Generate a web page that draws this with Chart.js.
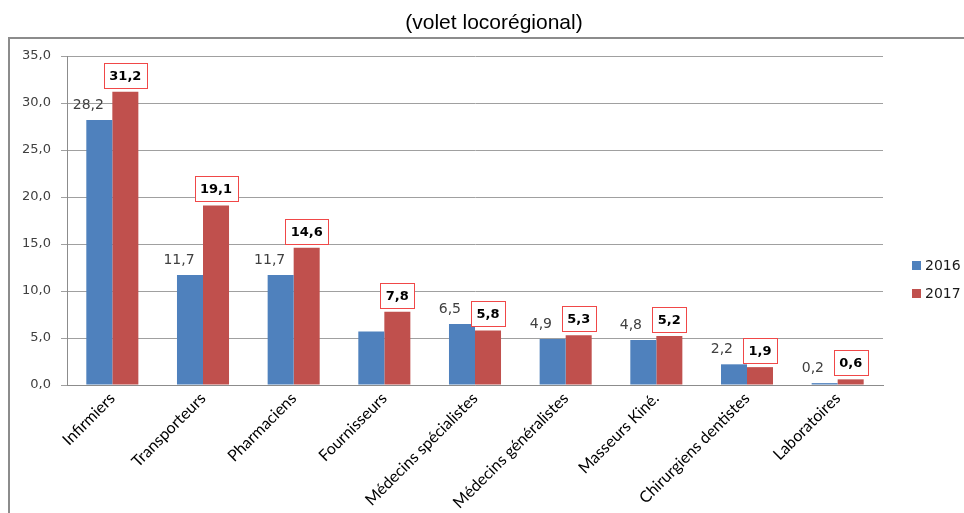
<!DOCTYPE html>
<html lang="fr">
<head>
<meta charset="utf-8">
<title>Volet locorégional</title>
<script src="https://cdn.jsdelivr.net/npm/chart.js"></script>
<style>
  html, body { margin: 0; padding: 0; background: #fff; overflow: hidden; }
  #cadre { position: relative; width: 964px; height: 513px; }
  #graphique { position: absolute; left: 0; top: 0; }
  #titre {
    position: absolute; left: 0; top: 10px; width: 988px;
    text-align: center; line-height: 24px;
    font-family: "Liberation Sans", Arial, sans-serif; font-size: 21px; color: #000;
  }
</style>
</head>
<body>
<div id="cadre">
  <canvas id="graphique" width="964" height="513"></canvas>
  <div id="titre">(volet locorégional)</div>
</div>
<script>
var categories = ['Infirmiers', 'Transporteurs', 'Pharmaciens', 'Fournisseurs', 'Médecins spécialistes',
    'Médecins généralistes', 'Masseurs Kiné.', 'Chirurgiens dentistes', 'Laboratoires'];
var annees = ['2016', '2017'];
var valeurs2016 = [28.2, 11.7, 11.7, 5.7, 6.5, 4.9, 4.8, 2.2, 0.2];
var valeurs2017 = [31.2, 19.1, 14.6, 7.8, 5.8, 5.3, 5.2, 1.9, 0.6];
var graduationsY = [0, 5, 10, 15, 20, 25, 30, 35];
// pas d'étiquette sur la barre 2016 des fournisseurs
var sansEtiquette2016 = [3];

function formatFr(v){
    return v.toFixed(1).replace('.', ',');
}

// cadre gris autour du graphique
var cadre = {
    id: 'cadre',
    beforeDraw: function(chart){
        var ctx = chart.ctx;
        ctx.save();
        ctx.strokeStyle = '#8c8c8c';
        ctx.lineWidth = 2;
        ctx.strokeRect(9, 38, 1100, 600);
        ctx.restore();
    }
};

// étiquettes de valeur : 2016 en texte simple, 2017 en gras dans un cadre rouge
var etiquettes = {
    id: 'etiquettes',
    afterDatasetsDraw: function(chart){
        var ctx = chart.ctx;
        ctx.save();
        ctx.textAlign = 'center';
        ctx.textBaseline = 'middle';

        var meta2016 = chart.getDatasetMeta(0);
        var meta2017 = chart.getDatasetMeta(1);
        var boites = [];

        // d'abord les cadres 2017, pour savoir où placer les textes 2016
        ctx.font = 'bold 13px "DejaVu Sans"';
        for (var j = 0; j < meta2017.data.length; j++) {
            var barre2 = meta2017.data[j];
            var texte = formatFr(valeurs2017[j]);
            var largeur = Math.round(ctx.measureText(texte).width) + 11;
            var hauteur = 25;
            var gauche = Math.round(barre2.x - largeur / 2);
            var haut = Math.round(barre2.y - 4 - hauteur);
            boites.push({ gauche: gauche, haut: haut, bas: haut + hauteur });
            ctx.fillStyle = '#fff';
            ctx.fillRect(gauche, haut, largeur, hauteur);
            ctx.strokeStyle = '#f04848';
            ctx.lineWidth = 1;
            ctx.strokeRect(gauche + 0.5, haut + 0.5, largeur, hauteur);
            ctx.fillStyle = '#000';
            ctx.fillText(texte, barre2.x, haut + hauteur / 2 + 1);
        }

        ctx.font = '14px "DejaVu Sans"';
        ctx.fillStyle = '#404040';
        for (var i = 0; i < meta2016.data.length; i++) {
            if (sansEtiquette2016.indexOf(i) !== -1) {
                continue;
            }
            var barre = meta2016.data[i];
            var t = formatFr(valeurs2016[i]);
            var w = ctx.measureText(t).width;
            var x = barre.x - 11;
            var y = barre.y - 15;
            var b = boites[i];
            // si le texte touche le cadre voisin, on le décale vers la gauche
            if (y + 6 > b.haut && y - 6 < b.bas && x + w / 2 > b.gauche - 10) {
                x = b.gauche - 10 - w / 2;
            }
            ctx.fillText(t, x, y);
        }
        ctx.restore();
    }
};

// légende à droite
var legende = {
    id: 'legende',
    afterDraw: function(chart){
        var ctx = chart.ctx;
        ctx.save();
        ctx.font = '14px "DejaVu Sans"';
        ctx.textBaseline = 'middle';
        ctx.textAlign = 'left';
        var datasets = chart.data.datasets;
        for (var i = 0; i < datasets.length; i++) {
            var y = 265 + i * 28;
            ctx.fillStyle = datasets[i].backgroundColor;
            ctx.fillRect(912, y - 4, 9, 9);
            ctx.fillStyle = '#1a1a1a';
            ctx.fillText(datasets[i].label, 925, y + 1);
        }
        ctx.restore();
    }
};

function graficoBarre(){
    var ctx = document.getElementById('graphique');
    var chart = new Chart(ctx, {
        type: 'bar',
        data: {
            labels: categories,
            datasets: [{
                label: annees[0],
                data: valeurs2016,
                backgroundColor: '#4f81bd'
            }, {
                label: annees[1],
                data: valeurs2017,
                backgroundColor: '#c0504d'
            }]
        },
        options: {
            responsive: false,
            animation: false,
            devicePixelRatio: 1,
            categoryPercentage: 0.574,
            barPercentage: 1.0,
            layout: { padding: { top: 56, right: 81, bottom: 0, left: 0 } },
            plugins: {
                legend: { display: false },
                title: { display: false },
                tooltip: { enabled: false }
            },
            scales: {
                x: {
                    grid: { display: false, drawTicks: false },
                    border: { color: '#8c8c8c' },
                    ticks: {
                        autoSkip: false,
                        maxRotation: 45,
                        minRotation: 45,
                        padding: 4,
                        color: '#000',
                        font: { family: 'Lato', size: 16 }
                    },
                    afterFit: function(axe){ axe.height = 128; }
                },
                y: {
                    min: graduationsY[0],
                    max: graduationsY[graduationsY.length - 1],
                    ticks: {
                        stepSize: graduationsY[1] - graduationsY[0],
                        padding: 10,
                        color: '#404040',
                        font: { family: 'DejaVu Sans', size: 13 },
                        callback: function(v){ return formatFr(v); }
                    },
                    grid: { color: '#a0a0a0', tickLength: 6 },
                    border: { color: '#8c8c8c' },
                    afterFit: function(axe){ axe.width = 67; }
                }
            }
        },
        plugins: [cadre, etiquettes, legende]
    });
}

graficoBarre();
</script>
</body>
</html>
